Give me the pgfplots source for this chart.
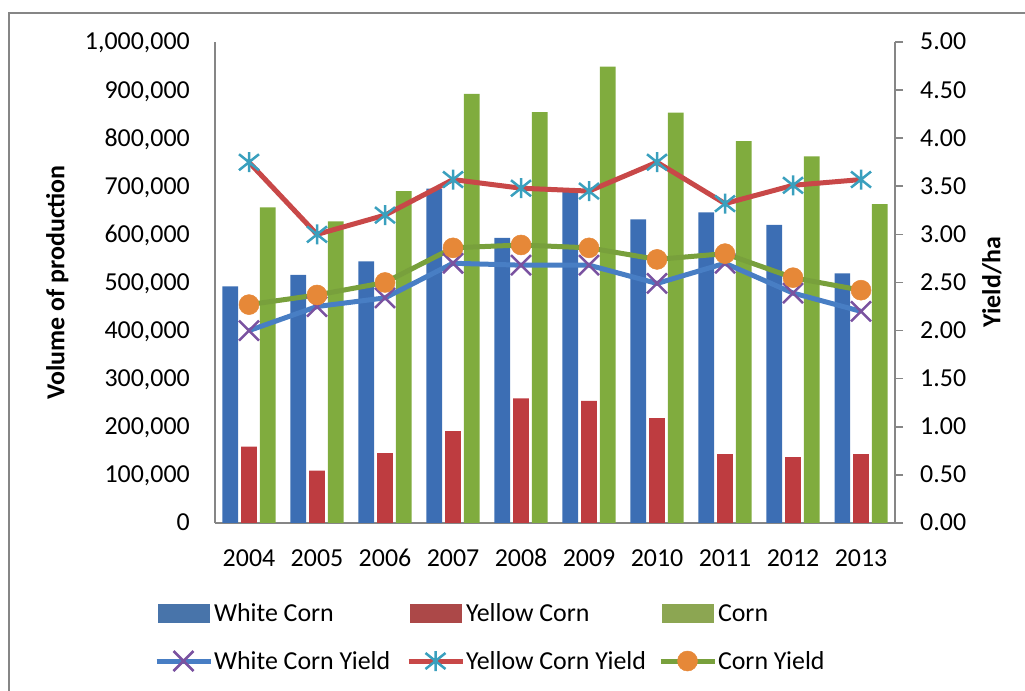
\documentclass[border=0pt]{standalone}
\usepackage{pgfplots}
\pgfplotsset{compat=1.18}
\usepackage{fontspec}
\setmainfont{Carlito}

\definecolor{barblue}{RGB}{60,110,180}
\definecolor{barred}{RGB}{190,60,64}
\definecolor{bargreen}{RGB}{128,172,62}
\definecolor{legblue}{RGB}{72,116,170}
\definecolor{legred}{RGB}{172,72,72}
\definecolor{leggreen}{RGB}{140,166,82}
\definecolor{lineblue}{RGB}{72,126,196}
\definecolor{linered}{RGB}{200,72,72}
\definecolor{linegreen}{RGB}{120,160,60}
\definecolor{mpurple}{RGB}{122,82,160}
\definecolor{maqua}{RGB}{58,160,190}
\definecolor{morange}{RGB}{230,136,56}
\definecolor{axgray}{RGB}{134,134,134}

\pgfdeclareplotmark{bigx}{%
  \pgfpathmoveto{\pgfqpoint{-\pgfplotmarksize}{-\pgfplotmarksize}}%
  \pgfpathlineto{\pgfqpoint{\pgfplotmarksize}{\pgfplotmarksize}}%
  \pgfpathmoveto{\pgfqpoint{-\pgfplotmarksize}{\pgfplotmarksize}}%
  \pgfpathlineto{\pgfqpoint{\pgfplotmarksize}{-\pgfplotmarksize}}%
  \pgfusepathqstroke}
\pgfdeclareplotmark{star6}{%
  \pgfpathmoveto{\pgfqpoint{0pt}{\pgfplotmarksize}}%
  \pgfpathlineto{\pgfqpoint{0pt}{-\pgfplotmarksize}}%
  \pgfpathmoveto{\pgfqpoint{-\pgfplotmarksize}{-.8\pgfplotmarksize}}%
  \pgfpathlineto{\pgfqpoint{\pgfplotmarksize}{.8\pgfplotmarksize}}%
  \pgfpathmoveto{\pgfqpoint{-\pgfplotmarksize}{.8\pgfplotmarksize}}%
  \pgfpathlineto{\pgfqpoint{\pgfplotmarksize}{-.8\pgfplotmarksize}}%
  \pgfusepathqstroke}

\pgfplotsset{linelegend/.style={legend image code/.code={\draw[mark repeat=2,mark phase=2,##1] plot coordinates {(0bp,0bp) (27bp,0bp) (54bp,0bp)};}}}

\newcommand{\fs}{\fontsize{26}{31}\selectfont}

\begin{document}
\begin{tikzpicture}[x=1bp,y=1bp,font=\fs]
\useasboundingbox (0,0) rectangle (1025,691);
\draw[axgray, line width=2bp] (8.5,0) -- (8.5,678) -- (1025,678);

\begin{axis}[
  scale only axis, width=680bp, height=481bp,
  at={(215bp,168bp)}, anchor=south west,
  xmin=-0.5, xmax=9.5, ymin=0, ymax=1000000,
  axis x line*=bottom, axis y line*=left,
  axis line style={axgray, line width=1.6bp},
  xtick={0,...,9},
  xticklabels={2004,2005,2006,2007,2008,2009,2010,2011,2012,2013},
  ytick={0,100000,...,1000000},
  scaled y ticks=false,
  /pgf/number format/assume math mode=true,
  yticklabel style={/pgf/number format/fixed,/pgf/number format/1000 sep={,},
    anchor=base east, inner sep=0pt, xshift=-25bp, yshift=-8bp},
  xticklabel style={anchor=north, inner sep=0pt, yshift=-26bp},
  tick label style={font=\fs},
  major tick length=0pt,
  tick style={draw=none},
  ylabel={\bfseries Volume of production},
  every axis y label/.style={at={(axis description cs:-0.232,0.5)}, rotate=90, anchor=center, font=\fs},
]
\addplot[ybar, bar width=0.23, bar shift=-0.275, fill=barblue, draw=none] coordinates {
 (0,492000) (1,516000) (2,544000) (3,695000) (4,593000) (5,690000) (6,631000) (7,646000) (8,620000) (9,519000)};
\addplot[ybar, bar width=0.23, bar shift=0, fill=barred, draw=none] coordinates {
 (0,159000) (1,109000) (2,145000) (3,191000) (4,259000) (5,254000) (6,218000) (7,143000) (8,137000) (9,143000)};
\addplot[ybar, bar width=0.23, bar shift=0.275, fill=bargreen, draw=none] coordinates {
 (0,656000) (1,627000) (2,690000) (3,892000) (4,854000) (5,949000) (6,853000) (7,794000) (8,762000) (9,663000)};
\end{axis}

\begin{axis}[
  scale only axis, width=680bp, height=481bp,
  at={(215bp,168bp)}, anchor=south west,
  xmin=-0.5, xmax=9.5, ymin=0, ymax=5,
  axis x line=none, axis y line*=right,
  axis line style={axgray, line width=1.6bp},
  ytick={0,0.5,...,5},
  tick align=outside, major tick length=8bp,
  tick style={axgray, line width=1.6bp},
  /pgf/number format/assume math mode=true,
  yticklabel style={/pgf/number format/fixed,/pgf/number format/fixed zerofill,/pgf/number format/precision=2,
    anchor=base west, inner sep=0pt, xshift=17bp, yshift=-8bp},
  tick label style={font=\fs},
  ylabel={\bfseries Yield/ha},
  every axis y label/.style={at={(axis description cs:1.1426,0.5)}, rotate=90, anchor=center, font=\fs},
  legend columns=3,
  legend style={at={(axis description cs:-0.0897,-0.1622)}, anchor=north west,
    draw=none, fill=none, inner sep=0pt, outer sep=0pt, row sep=24bp, column sep=0pt,
    font=\fs,
    nodes={inner sep=0pt, text height=20bp, text depth=4bp},
    /tikz/every odd column/.append style={column sep=1bp}},
  legend cell align=left,
]
\addlegendimage{legend image code/.code={\fill[legblue] (2bp,-9bp) rectangle (53bp,9bp);}}
\addlegendentry{\makebox[192bp][l]{White Corn}}
\addlegendimage{legend image code/.code={\fill[legred] (2bp,-9bp) rectangle (53bp,9bp);}}
\addlegendentry{\makebox[192bp][l]{Yellow Corn}}
\addlegendimage{legend image code/.code={\fill[leggreen] (2bp,-9bp) rectangle (53bp,9bp);}}
\addlegendentry{Corn}

\addplot[color=lineblue, line width=5bp, mark=bigx, mark size=10bp,
  mark options={draw=mpurple, line width=2.5bp}, linelegend]
 coordinates {(0,2.00)(1,2.25)(2,2.34)(3,2.70)(4,2.68)(5,2.68)(6,2.49)(7,2.70)(8,2.39)(9,2.20)};
\addlegendentry{\makebox[192bp][l]{White Corn Yield}}
\addplot[color=linered, line width=5bp, mark=star6, mark size=10bp,
  mark options={draw=maqua, line width=2.5bp}, linelegend]
 coordinates {(0,3.75)(1,3.00)(2,3.20)(3,3.57)(4,3.48)(5,3.45)(6,3.75)(7,3.32)(8,3.51)(9,3.57)};
\addlegendentry{\makebox[192bp][l]{Yellow Corn Yield}}
\addplot[color=linegreen, line width=5bp, mark=*, mark size=10bp,
  mark options={draw=morange, fill=morange, line width=0.5bp}, linelegend]
 coordinates {(0,2.27)(1,2.37)(2,2.50)(3,2.86)(4,2.89)(5,2.86)(6,2.74)(7,2.80)(8,2.55)(9,2.42)};
\addlegendentry{Corn Yield}
\end{axis}
\end{tikzpicture}
\end{document}
